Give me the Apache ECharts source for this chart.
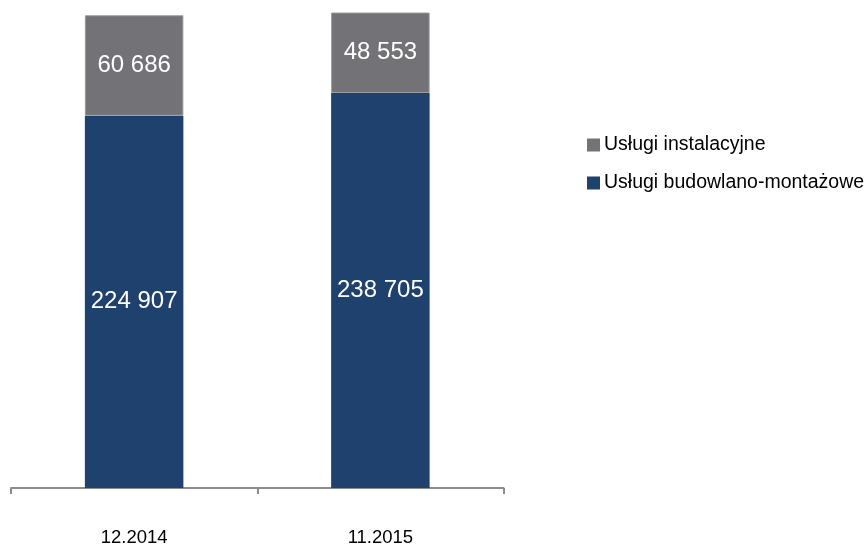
<!DOCTYPE html>
<html>
<head>
<meta charset="utf-8">
<script src="https://cdn.jsdelivr.net/npm/echarts@6/dist/echarts.min.js"></script>
<style>html,body{margin:0;padding:0;background:#fff}#c{width:868px;height:547px}</style>
</head>
<body>
<div id="c"></div>
<script>
const categories = ['12.2014', '11.2015'];
const budowlane = [224907, 238705];
const instalacyjne = [60686, 48553];
const seriesNames = ['Usługi budowlano-montażowe', 'Usługi instalacyjne'];

function fmt(v) {
  return String(v).replace(/\B(?=(\d{3})+(?!\d))/g, ' ');
}

const chart = echarts.init(document.getElementById('c'));
const labelStyle = {
  show: true,
  position: 'inside',
  color: '#ffffff',
  fontSize: 24,
  fontFamily: 'Liberation Sans, Arial, sans-serif',
  formatter: p => fmt(p.value)
};
chart.setOption({
  animation: false,
  grid: { left: 11, right: 364.5, top: 8, bottom: 58.5, containLabel: false },
  legend: {
    orient: 'vertical',
    left: 582,
    top: 130,
    itemWidth: 13,
    itemHeight: 13,
    itemGap: 18,
    icon: 'rect',
    itemStyle: { borderWidth: 0 },
    data: [seriesNames[1], seriesNames[0]],
    textStyle: { fontSize: 19.5, lineHeight: 20, color: '#000', fontFamily: 'Liberation Sans, Arial, sans-serif', padding: [0, 0, 0, -1] }
  },
  xAxis: {
    type: 'category',
    data: categories,
    axisLine: { lineStyle: { color: '#8c8c8c', width: 2 } },
    axisTick: { show: true, length: 6, lineStyle: { color: '#8c8c8c', width: 2 } },
    axisLabel: { margin: 40, fontSize: 18.5, color: '#000', fontFamily: 'Liberation Sans, Arial, sans-serif' }
  },
  yAxis: {
    type: 'value',
    min: 0,
    max: 290000,
    show: false,
    splitLine: { show: false }
  },
  series: [
    {
      name: seriesNames[0],
      type: 'bar',
      stack: 'total',
      barWidth: '40%',
      data: budowlane,
      itemStyle: { color: '#1f416d' },
      label: labelStyle
    },
    {
      name: seriesNames[1],
      type: 'bar',
      stack: 'total',
      barWidth: '40%',
      data: instalacyjne,
      itemStyle: { color: '#737276', borderColor: '#9a9a9c', borderWidth: 1 },
      label: labelStyle
    }
  ]
});
</script>
</body>
</html>
